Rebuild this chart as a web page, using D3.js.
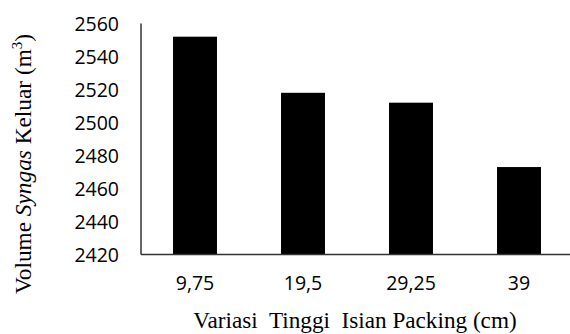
<!DOCTYPE html>
<html><head><meta charset="utf-8">
<script src="https://cdn.jsdelivr.net/npm/d3@7"></script>
<style>html,body{margin:0;padding:0;background:#fff;}</style>
</head><body>
<svg id="chart" width="570" height="334"></svg>
<script>
const categories = ["9,75", "19,5", "29,25", "39"];
const values = [2552, 2518, 2512, 2473];
const yTicks = [2420, 2440, 2460, 2480, 2500, 2520, 2540, 2560];

const svg = d3.select("#chart");
const x0 = 141, x1 = 573, yTop = 23.5, yBot = 254.5;

const x = d3.scaleBand().domain(categories).range([x0, x1])
  .paddingInner(0.593).paddingOuter(0.2965);
const y = d3.scaleLinear().domain([2420, 2560]).range([yBot, yTop]);

svg.selectAll("rect.bar").data(values).join("rect")
  .attr("class", "bar")
  .attr("x", (d, i) => x(categories[i]))
  .attr("width", x.bandwidth())
  .attr("y", d => y(d))
  .attr("height", d => y(2420) - y(d))
  .attr("fill", "#000");

// y axis
const yAxis = d3.axisLeft(y).tickValues(yTicks).tickSize(0).tickPadding(22).tickFormat(d3.format("d"));
const gy = svg.append("g").attr("transform", `translate(${x0},1)`).call(yAxis);
gy.select(".domain").remove();
gy.selectAll("text").attr("font-family", "'Open Sans', sans-serif").attr("font-size", 19.5).attr("fill", "#000");

// x axis
const xAxis = d3.axisBottom(x).tickSize(0).tickPadding(22);
const gx = svg.append("g").attr("transform", `translate(0,${yBot})`).call(xAxis);
gx.select(".domain").remove();
gx.selectAll("text").attr("font-family", "'Open Sans', sans-serif").attr("font-size", 19.5).attr("fill", "#000");

// axis lines
svg.append("line").attr("x1", x0).attr("x2", x0).attr("y1", yTop).attr("y2", yBot)
  .attr("stroke", "#333").attr("stroke-width", 1.5);
svg.append("line").attr("x1", x0).attr("x2", 570).attr("y1", yBot).attr("y2", yBot)
  .attr("stroke", "#333").attr("stroke-width", 1.5);

// x label
svg.append("text").attr("x", 355).attr("y", 328).attr("text-anchor", "middle")
  .attr("font-family", "'Liberation Serif', 'Times New Roman', serif").attr("font-size", 23.2)
  .attr("fill", "#000").attr("xml:space", "preserve")
  .text("Variasi  Tinggi  Isian Packing (cm)");

// y label
const yl = svg.append("text").attr("transform", "translate(31,164) rotate(-90)")
  .attr("text-anchor", "middle")
  .attr("font-family", "'Liberation Serif', 'Times New Roman', serif").attr("font-size", 23.3)
  .attr("fill", "#000");
yl.append("tspan").text("Volume ");
yl.append("tspan").attr("font-style", "italic").text("Syngas");
yl.append("tspan").text(" Keluar (m");
yl.append("tspan").attr("font-size", 15).attr("dy", -9).text("3");
yl.append("tspan").attr("dy", 9).text(")");
</script>
</body></html>
